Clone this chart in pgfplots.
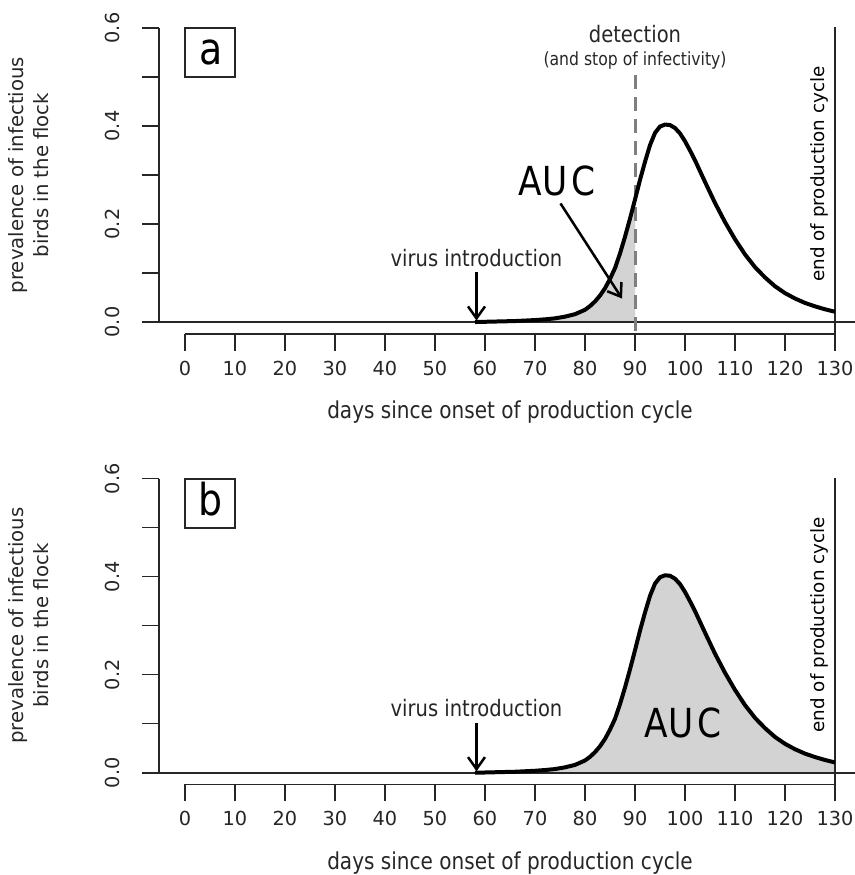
\documentclass[border=0pt]{standalone}
\usepackage{pgfplots}
\pgfplotsset{compat=1.18}
\usepackage{pgfplotstable}
\usetikzlibrary{arrows.meta}
\usepackage{fontspec}
\setmainfont{DejaVu Sans}
\newfontfamily\narrowfont[FakeStretch=0.86]{DejaVu Sans}

\definecolor{aucgray}{HTML}{D3D3D3}
\definecolor{axgray}{HTML}{262626}
\definecolor{detgray}{HTML}{7F7F7F}

% prevalence of infectious birds
\pgfplotstableread{
day prev
58 0.0000
60 0.0005
62 0.0010
64 0.0015
66 0.0020
68 0.0030
70 0.0040
72 0.0055
74 0.0075
76 0.0110
78 0.0160
80 0.0250
81 0.0325
82 0.0420
83 0.0540
84 0.0690
85 0.0880
86 0.1100
87 0.1400
88 0.1740
89 0.2110
90 0.2500
91 0.2900
92 0.3270
93 0.3610
94 0.3860
95 0.3990
96 0.4030
97 0.4020
98 0.3960
99 0.3850
100 0.3690
101 0.3500
102 0.3300
103 0.3080
104 0.2860
106 0.2430
108 0.2040
110 0.1690
112 0.1380
114 0.1120
116 0.0910
118 0.0730
120 0.0590
122 0.0480
124 0.0390
126 0.0320
128 0.0260
130 0.0210
}\prevtable

\tikzset{
  axisframe/.style={axgray, line width=1.6pt},
  annot/.style={font=\narrowfont\fontsize{22.7}{26}\selectfont, text=axgray},
  bigtext/.style={font=\narrowfont\fontsize{40}{46}\selectfont},
}

\pgfplotsset{
  panel/.style={
    scale only axis, width=702pt, height=317.5pt,
    xmin=-5.2, xmax=135.2, ymin=-0.024, ymax=0.624,
    axis x line*=bottom, axis y line*=left,
    axis line style={draw=none},
    tick align=outside, major tick length=17pt,
    tick style={axgray, line width=1.4pt},
    xtick={0,10,...,130},
    ytick={0,0.1,0.2,0.3,0.4,0.5,0.6},
    yticklabels={0.0,,0.2,,0.4,,0.6},
    ticklabel style={font=\fontsize{19.3}{23}\selectfont, text=axgray},
    yticklabel style={rotate=90, anchor=south},
    xticklabel style={anchor=north},
    yticklabel shift=19pt,
    xticklabel shift=6.5pt,
    /pgf/number format/assume math mode=true,
    xlabel={days since onset of production cycle},
    xlabel style={font=\narrowfont\fontsize{23.3}{27}\selectfont, text=axgray,
      at={(axis description cs:0.5,-0.246)}, anchor=center},
    ylabel={prevalence of infectious\\birds in the flock},
    ylabel style={font=\fontsize{19.7}{25}\selectfont, text=axgray,
      align=center, at={(axis description cs:-0.186,0.5)}, anchor=center},
    clip=false,
  },
}

\begin{document}
\begin{tikzpicture}
% panel a
\begin{axis}[panel, at={(159pt,541.2pt)}, anchor=south west]
\addplot[fill=aucgray, draw=none, restrict x to domain=58:90] table[x=day, y=prev] {\prevtable} \closedcycle;
\addplot[axgray, line width=1.8pt] coordinates {(-8.6,0) (135.2,0)};
\addplot[axisframe] coordinates {(-5.2,0) (-5.2,0.6)};
\addplot[axisframe] coordinates {(0,-0.024) (130,-0.024)};
\addplot[detgray, line width=3pt, dash pattern=on 14pt off 8pt] coordinates {(90,0.504) (90,-0.024)};
\addplot[axgray, line width=2.2pt] coordinates {(130,-0.024) (130,0.602)};
\addplot[black, line width=4pt, line join=round] table[x=day, y=prev] {\prevtable};
\draw[axisframe] (axis cs:0,0.5) rectangle (axis cs:10,0.6);
\node[anchor=base, font=\narrowfont\fontsize{44}{50}\selectfont] at (axis cs:5.2,0.525) {a};
\node[annot, anchor=base] at (axis cs:58.3,0.114) {virus introduction};
\draw[black, line width=2.5pt, -{Straight Barb[length=12pt, width=17pt]}] (axis cs:58.3,0.102) -- (axis cs:58.3,0.003);
\node[bigtext, anchor=base] at (axis cs:74.4,0.259) {A\kern1pt U\kern4pt C};
\draw[black, line width=2.5pt, -{Straight Barb[length=12pt, width=17pt]}] (axis cs:75.1,0.242) -- (axis cs:87.4,0.048);
\node[annot, anchor=base] at (axis cs:90,0.571) {detection};
\node[anchor=base, font=\narrowfont\fontsize{18.2}{22}\selectfont, text=axgray] at (axis cs:90,0.524) {(and stop of infectivity)};
\node[rotate=90, anchor=base, font=\fontsize{18.3}{22}\selectfont] at (axis cs:127.8,0.302) {end of production cycle};
\end{axis}
% panel b
\begin{axis}[panel, at={(159pt,90.5pt)}, anchor=south west]
\addplot[fill=aucgray, draw=none] table[x=day, y=prev] {\prevtable} \closedcycle;
\addplot[axgray, line width=1.8pt] coordinates {(-8.6,0) (135.2,0)};
\addplot[axisframe] coordinates {(-5.2,0) (-5.2,0.6)};
\addplot[axisframe] coordinates {(0,-0.024) (130,-0.024)};
\addplot[axgray, line width=2.2pt] coordinates {(130,-0.024) (130,0.602)};
\addplot[black, line width=4pt, line join=round] table[x=day, y=prev] {\prevtable};
\draw[axisframe] (axis cs:0,0.5) rectangle (axis cs:10,0.6);
\node[anchor=base, font=\narrowfont\fontsize{44}{50}\selectfont] at (axis cs:5.2,0.525) {b};
\node[annot, anchor=base] at (axis cs:58.3,0.114) {virus introduction};
\draw[black, line width=2.5pt, -{Straight Barb[length=12pt, width=17pt]}] (axis cs:58.3,0.102) -- (axis cs:58.3,0.003);
\node[bigtext, anchor=base] at (axis cs:99.6,0.071) {A\kern1pt U\kern4pt C};
\node[rotate=90, anchor=base, font=\fontsize{18.3}{22}\selectfont] at (axis cs:127.8,0.302) {end of production cycle};
\end{axis}
\pgfresetboundingbox
\useasboundingbox (0,0) rectangle (854pt,875pt);
\end{tikzpicture}
\end{document}
